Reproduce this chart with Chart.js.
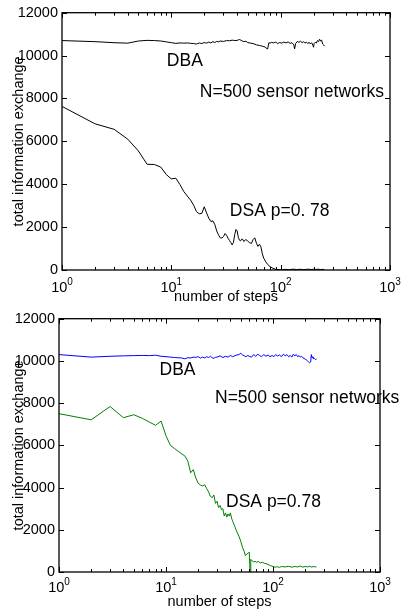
<!DOCTYPE html>
<html>
<head>
<meta charset="utf-8">
<script src="https://cdn.jsdelivr.net/npm/chart.js@4.4.1/dist/chart.umd.min.js"></script>
<style>
  body { margin: 0; background: #fff; }
  .panel { position: relative; width: 401px; height: 306px; }
</style>
</head>
<body>
<div class="panel"><canvas id="topChart"></canvas></div>
<div class="panel"><canvas id="bottomChart"></canvas></div>
<script>
// ---- data ----
const yTicks = [0, 2000, 4000, 6000, 8000, 10000, 12000];
const xDecades = [1, 10, 100, 1000];
const xExponents = ['0', '1', '2', '3'];

// top panel
const topDbaSteps = [1,2,3,4,5,6,7,8,9,10,11,12,13,14,15,16,17,18,19,20,21,22,23,24,25,26,27,28,30,32,34,36,38,40,42,44,46,48,50,53,56,60,64,68,72,75,76,78,80,83,86,90,94,98,102,107,112,117,122,127,132,134,137,142,147,152,157,162,167,172,177,182,187,192,197,200,202,207,212,217,222,227,232,237,242,247,252];
const topDbaValues = [10700,10650,10600,10580,10680,10710,10700,10680,10640,10600,10570,10590,10580,10590,10570,10560,10540,10590,10560,10610,10580,10630,10590,10650,10610,10660,10640,10680,10660,10700,10690,10720,10700,10710,10750,10700,10650,10670,10610,10580,10560,10500,10470,10440,10400,10320,10310,10600,10580,10620,10590,10630,10560,10610,10580,10630,10590,10640,10570,10600,10500,10310,10560,10660,10620,10670,10600,10650,10580,10630,10560,10620,10540,10600,10480,10390,10560,10620,10580,10700,10650,10760,10680,10720,10540,10500,10440];

const topDsaSteps = [1,2,3,4,5,6,7,8,9,10,11,12,13,14,15,16,17,18,19,20,21,22,23,24,25,26,27,28,29,30,31,32,33,34,35,36,37,38,39,40,41,42,43,44,45,46,48,50,52,54,56,58,60,62,64,66,68,70,73,76,80,85,90,95,100,110,120,130,140,150,160,170,180,190,200,210,220,230,240,250];
const topDsaValues = [7630,6820,6560,6100,5550,4930,4920,4800,4450,4250,4280,3980,3660,3450,3260,3020,2720,2620,2640,2950,2660,2420,2260,2290,2120,1820,1640,1500,1490,1560,1700,1620,1480,1380,1280,1170,1290,1650,1890,1820,1520,1390,1360,1440,1430,1330,1420,1350,1270,1240,1420,1500,1250,1100,1200,1080,750,550,380,260,160,80,30,20,10,30,15,40,20,35,15,25,40,20,35,25,40,20,30,25];

const topNoteTexts = ['DBA', 'N=500 sensor networks', 'DSA p=0. 78'];
const topNoteSteps = [9.1, 18.2, 34.3];
const topNoteValues = [9720, 8300, 2744];

// bottom panel
const bottomDbaSteps = [1,2,3,4,5,6,7,8,9,10,11,12,13,14,15,16,17,18,19,20,21,22,23,24,25,26,27,28,29,30,32,34,36,38,40,42,44,46,48,50,52,54,56,58,60,63,66,69,72,75,78,82,86,90,94,98,102,106,110,115,120,125,130,135,140,145,150,155,160,165,170,175,180,185,190,195,200,205,210,215,220,225,228,232,236,240,245,250,255];
const bottomDbaValues = [10300,10180,10220,10240,10250,10260,10250,10270,10220,10200,10180,10160,10150,10140,10100,10150,10140,10180,10170,10200,10130,10180,10140,10200,10160,10220,10150,10120,10170,10180,10240,10160,10220,10180,10260,10200,10250,10280,10300,10360,10280,10240,10200,10260,10220,10180,10300,10220,10320,10250,10200,10300,10220,10280,10200,10260,10200,10300,10230,10280,10200,10320,10240,10300,10200,10260,10180,10320,10240,10300,10200,10250,10180,10220,10150,10120,10080,10050,10000,9960,9910,9950,10300,10150,10200,10100,10120,10060,10080];

const bottomDsaSteps = [1,2,3,4,5,6,7,8,9,10,11,12,13,14,15,16,17,18,19,20,21,22,23,24,25,26,27,28,29,30,31,32,33,34,35,36,37,38,39,40,41,42,44,46,48,50,52,54,55,57,59,60,61,62,64,66,68,70,73,76,80,83,86,90,95,100,105,110,115,120,130,140,150,160,170,180,190,200,210,220,230,240,250,255];
const bottomDsaValues = [7500,7210,7840,7310,7450,7280,7100,6950,7150,6450,6000,5850,5720,5600,5500,5250,4700,4850,4450,4200,4120,4080,4130,3950,3800,3580,3520,3650,3250,3350,3050,3150,2950,3000,2650,2800,2600,2750,2650,2800,2550,2400,2150,1900,1700,1450,1150,950,780,850,900,940,0,600,520,480,500,460,500,430,460,410,400,350,300,260,230,250,220,260,240,270,230,260,240,280,230,260,240,270,230,260,240,250];

const bottomNoteTexts = ['DBA', 'N=500 sensor networks', 'DSA p=0.78'];
const bottomNoteSteps = [8.7, 28.7, 36.4];
const bottomNoteValues = [9543, 8220, 3307];

// ---- helpers ----
const FONT = '"Liberation Sans", Arial, Helvetica, sans-serif';
Chart.defaults.color = '#000';
Chart.defaults.font.family = FONT;

function toPoints(steps, values) {
  return steps.map((s, i) => ({ x: s, y: values[i] }));
}

function toNotes(texts, steps, values) {
  return texts.map((t, i) => ({ text: t, x: steps[i], y: values[i] }));
}

// matlab-like box, inward ticks, 10^n labels and text notes
const matlabAxes = {
  id: 'matlabAxes',
  afterDraw(chart, args, o) {
    const { ctx, chartArea: a, scales: { x, y } } = chart;
    ctx.save();
    ctx.strokeStyle = '#000';
    ctx.lineWidth = 1;
    ctx.beginPath();
    yTicks.forEach(v => {
      const py = Math.round(y.getPixelForValue(v)) + 0.5;
      ctx.moveTo(a.left, py); ctx.lineTo(a.left + 5, py);
      ctx.moveTo(a.right, py); ctx.lineTo(a.right - 5, py);
    });
    xDecades.forEach((d, i) => {
      const ks = i < xDecades.length - 1 ? [1, 2, 3, 4, 5, 6, 7, 8, 9] : [1];
      ks.forEach(k => {
        const len = k === 1 ? 5 : 3;
        const px = Math.round(x.getPixelForValue(d * k)) + 0.5;
        ctx.moveTo(px, a.bottom); ctx.lineTo(px, a.bottom - len);
        ctx.moveTo(px, a.top); ctx.lineTo(px, a.top + len);
      });
    });
    ctx.stroke();
    ctx.lineWidth = 1.3;
    ctx.strokeRect(a.left, a.top, a.right - a.left, a.bottom - a.top);

    // x tick labels: 10 with superscript exponent
    ctx.fillStyle = '#000';
    ctx.textBaseline = 'alphabetic';
    ctx.textAlign = 'left';
    xDecades.forEach((d, i) => {
      const px = x.getPixelForValue(d);
      ctx.font = '14.5px ' + FONT;
      const wBase = ctx.measureText('10').width;
      ctx.font = '10px ' + FONT;
      const wExp = ctx.measureText(xExponents[i]).width;
      const x0 = px - (wBase + wExp) / 2;
      ctx.font = '14.5px ' + FONT;
      ctx.fillText('10', x0, a.bottom + o.labelDrop);
      ctx.font = '10px ' + FONT;
      ctx.fillText(xExponents[i], x0 + wBase, a.bottom + o.labelDrop - 7);
    });

    // notes
    ctx.font = '17.5px ' + FONT;
    ctx.textBaseline = 'middle';
    o.notes.forEach(n => {
      ctx.fillText(n.text, x.getPixelForValue(n.x), y.getPixelForValue(n.y));
    });
    ctx.restore();
  }
};

function makeChart(id, datasets, cfg) {
  return new Chart(document.getElementById(id), {
    type: 'line',
    data: { datasets: datasets },
    options: {
      responsive: true,
      maintainAspectRatio: false,
      animation: false,
      layout: { padding: { top: 12, right: cfg.right, left: 0, bottom: 0 } },
      elements: { point: { radius: 0 }, line: { borderWidth: 1, tension: 0 } },
      plugins: {
        legend: { display: false },
        tooltip: { enabled: false },
        matlabAxes: { notes: cfg.notes, labelDrop: cfg.labelDrop }
      },
      scales: {
        x: {
          type: 'logarithmic',
          min: 1,
          max: 1000,
          grid: { display: false, drawTicks: false },
          border: { display: false },
          ticks: { display: false },
          title: {
            display: true,
            text: 'number of steps',
            font: { size: 14.5 },
            padding: { top: 0, bottom: cfg.titleBottom }
          },
          afterFit: s => { s.height = cfg.xHeight; }
        },
        y: {
          min: 0,
          max: 12000,
          grid: { display: false, drawTicks: false },
          border: { display: false },
          afterBuildTicks: s => { s.ticks = yTicks.map(v => ({ value: v })); },
          ticks: { font: { size: 14.5 }, padding: 4, callback: v => String(v) },
          title: {
            display: true,
            text: 'total information exchange',
            font: { size: 14.5 },
            padding: { top: 10, bottom: 0 }
          },
          afterFit: s => { s.width = cfg.yWidth; }
        }
      }
    },
    plugins: [matlabAxes]
  });
}

// ---- top chart ----
makeChart('topChart', [
  { label: 'DBA', data: toPoints(topDbaSteps, topDbaValues), borderColor: '#000' },
  { label: 'DSA', data: toPoints(topDsaSteps, topDsaValues), borderColor: '#000' }
], {
  right: 11, yWidth: 62, xHeight: 36, labelDrop: 22, titleBottom: 0,
  notes: toNotes(topNoteTexts, topNoteSteps, topNoteValues)
});

// ---- bottom chart ----
makeChart('bottomChart', [
  { label: 'DBA', data: toPoints(bottomDbaSteps, bottomDbaValues), borderColor: '#0000ff' },
  { label: 'DSA', data: toPoints(bottomDsaSteps, bottomDsaValues), borderColor: '#008000' }
], {
  right: 21, yWidth: 59, xHeight: 40, labelDrop: 20, titleBottom: 1,
  notes: toNotes(bottomNoteTexts, bottomNoteSteps, bottomNoteValues)
});
</script>
</body>
</html>
